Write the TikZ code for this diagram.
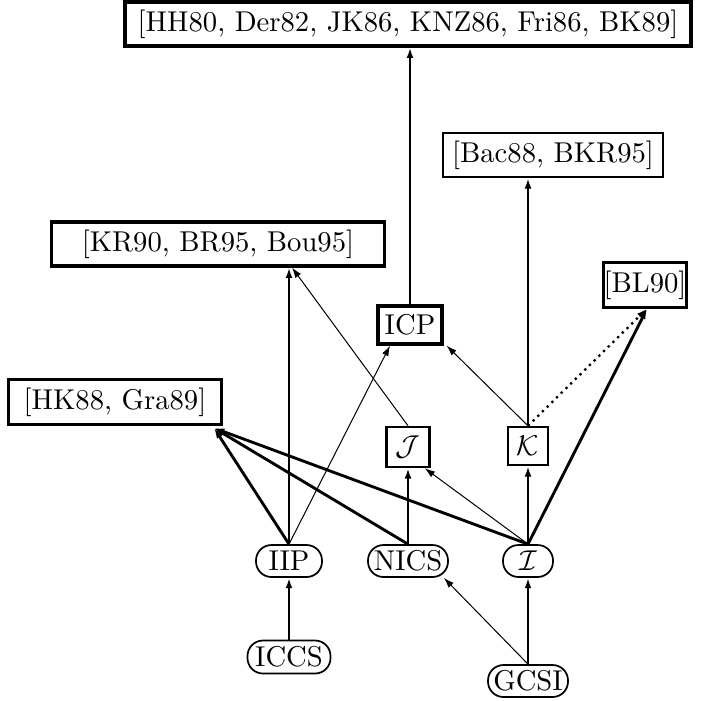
\documentclass[tikz,border=0pt]{standalone}
\usetikzlibrary{arrows.meta,calc}
\begin{document}
\begin{tikzpicture}[x=0.349pt,y=-0.349pt,
  box/.style={draw,line width=1.1pt,inner sep=0pt,font=\normalsize},
  tbox/.style={box,line width=0.85pt},
  oval/.style={draw,line width=0.6pt,rounded corners=5.4pt,inner sep=0pt,minimum height=11.2pt},
  arr/.style={-{Latex[length=3.6pt,width=2.4pt]}},
  thk/.style={arr,line width=1pt},
  med/.style={arr,line width=0.75pt},
  thn/.style={arr,line width=0.35pt},
  dot/.style={arr,line width=0.8pt,dash pattern=on 0.8pt off 1.5pt}]
\useasboundingbox (0,0) rectangle (710,700);
% nodes
\node[box,minimum width=566*0.349pt,minimum height=44*0.349pt] (top) at (408,24) {[HH80, Der82, JK86, KNZ86, Fri86, BK89]};
\node[tbox,minimum width=220*0.349pt,minimum height=44*0.349pt] (bac) at (553,155) {[Bac88, BKR95]};
\node[box,minimum width=333*0.349pt,minimum height=44*0.349pt] (kr) at (218,244) {[KR90, BR95, Bou95]};
\node[tbox,minimum width=79*0.349pt,minimum height=45*0.349pt] (bl) at (645,285) {[BL90]};
\node[box,minimum width=64*0.349pt,minimum height=38*0.349pt] (icp) at (410,325) {ICP};
\node[box,minimum width=213*0.349pt,minimum height=45*0.349pt] (hk) at (115,402) {[HK88, Gra89]};
\node[tbox,minimum width=43*0.349pt,minimum height=40*0.349pt] (J) at (408,447) {$\mathcal{J}$};
\node[tbox,minimum width=40*0.349pt,minimum height=38*0.349pt] (K) at (528,446) {$\mathcal{K}$};
\node[oval,minimum width=66*0.349pt,minimum height=32*0.349pt] (iip) at (289,561) {IIP};
\node[oval,minimum width=80*0.349pt,minimum height=32*0.349pt] (nics) at (408,561) {NICS};
\node[oval,minimum width=50*0.349pt,minimum height=32*0.349pt] (I) at (528,561) {$\mathcal{I}$};
\node[oval,minimum width=83*0.349pt,minimum height=33*0.349pt] (iccs) at (289,657) {ICCS};
\node[oval,minimum width=80*0.349pt,minimum height=32*0.349pt] (gcsi) at (528,681) {GCSI};
% connectors
\draw[thk] (icp.north) -- (icp.north |- top.south);
\draw[med] (K.north) -- (K.north |- bac.south);
\draw[thk] (iip.north) -- (iip.north |- kr.south);
\draw[thn] (J.north) -- ($(kr.south)+(74,0)$);
\draw[thn] (iip.north) -- ($(icp.south)+(-20,0)$);
\draw[thn] (K.north) -- ($(icp.south east)+(3,0)$);
\draw[dot] (K.north) -- ($(bl.south)+(2,0)$);
\draw[thk] (I.north) -- ($(bl.south)+(2,0)$);
\draw[med] (I.north) -- (K.south);
\draw[thn] (I.north) -- ($(J.south east)+(-6,0)$);
\draw[thk] (nics.north) -- (J.south);
\draw[thk] (iip.north) -- ($(hk.south east)+(-9,2)$);
\draw[thk] (nics.north) -- ($(hk.south east)+(-9,2)$);
\draw[thk] (I.north) -- ($(hk.south east)+(-9,2)$);
\draw[thk] (iccs.north) -- (iip.south);
\draw[thk] (gcsi.north) -- (I.south);
\draw[thn] (gcsi.north) -- ($(nics.south east)+(-5,0)$);
\end{tikzpicture}
\end{document}
